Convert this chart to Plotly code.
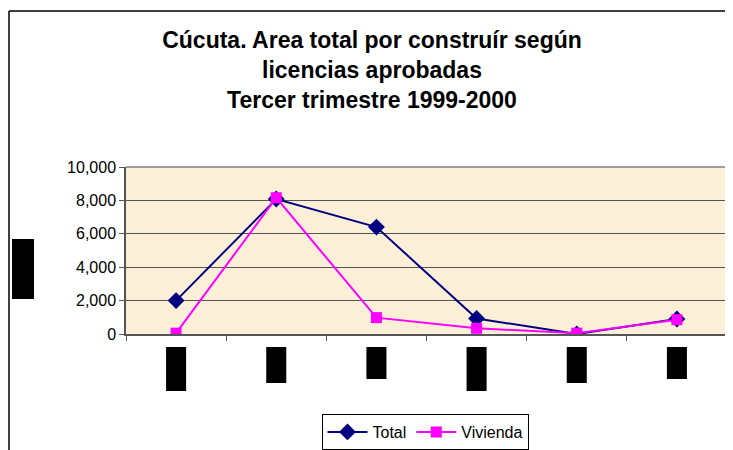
import plotly.graph_objects as go

categories = ["C1", "C2", "C3", "C4", "C5", "C6"]
total = [2000, 8080, 6400, 930, 0, 900]
vivienda = [50, 8160, 980, 340, 50, 860]
y_ticks = [0, 2000, 4000, 6000, 8000, 10000]
y_tick_labels = ["0", "2,000", "4,000", "6,000", "8,000", "10,000"]

OFF = 8  # page body margin
W, H = 733 - OFF, 450 - OFF
# plot area in reference page pixels: x 126..727, y 167..334
L, R, T, B = 126 - OFF, 733 - 727, 167 - OFF, 450 - 334
pw, ph = W - L - R, H - T - B

def px(x):  # reference page pixel -> paper x
    return (x - OFF - L) / pw

def py(y):  # reference page pixel -> paper y
    return (H - B - (y - OFF)) / ph

fig = go.Figure()
fig.add_trace(go.Scatter(x=categories, y=total, name="Total", mode="lines+markers",
                         line=dict(color="#000080", width=2),
                         marker=dict(symbol="diamond", size=13, color="#000080")))
fig.add_trace(go.Scatter(x=categories, y=vivienda, name="Vivienda", mode="lines+markers",
                         line=dict(color="#FF00FF", width=2),
                         marker=dict(symbol="square", size=11, color="#FF00FF")))

shapes = []
box_bottoms = [391, 383, 379, 391, 383, 379]
for i, bb in enumerate(box_bottoms):
    shapes.append(dict(type="rect", xref="x", yref="paper", x0=i - 0.1, x1=i + 0.1,
                       y0=py(bb), y1=py(347), fillcolor="black", line=dict(width=0)))
shapes.append(dict(type="rect", xref="paper", yref="paper", x0=px(12), x1=px(34),
                   y0=py(299), y1=py(239), fillcolor="black", line=dict(width=0)))
shapes.append(dict(type="line", xref="paper", yref="paper", x0=px(9), x1=px(9),
                   y0=py(11), y1=py(470), line=dict(color="black", width=1.5)))
shapes.append(dict(type="line", xref="paper", yref="paper", x0=px(9), x1=px(760),
                   y0=py(11), y1=py(11), line=dict(color="black", width=1.5)))
shapes.append(dict(type="line", xref="paper", yref="paper", x0=0, x1=1, y0=1, y1=1,
                   line=dict(color="#808080", width=1.5)))
shapes.append(dict(type="line", xref="paper", yref="paper", x0=1, x1=1, y0=0, y1=1,
                   line=dict(color="#808080", width=1.5)))

fig.update_layout(
    width=W, height=H,
    margin=dict(l=L, r=R, t=T, b=B, autoexpand=False),
    paper_bgcolor="white",
    plot_bgcolor="#FBEFD8",
    font=dict(family="Liberation Sans, Arial, sans-serif", size=16, color="black"),
    title=dict(text="<b>Cúcuta. Area total por construír según<br>licencias aprobadas<br>Tercer trimestre 1999-2000</b>",
               x=(372 - OFF) / W, xref="container", xanchor="center", y=1 - 40 / H, yanchor="middle",
               font=dict(size=23, color="black")),
    showlegend=True,
    legend=dict(orientation="h", x=px(425), xanchor="center", y=py(432), yanchor="middle",
                bordercolor="black", borderwidth=1, bgcolor="white",
                font=dict(size=16), itemwidth=40),
    shapes=shapes,
)
fig.update_xaxes(type="category", showticklabels=False, showgrid=False,
                 showline=True, linecolor="#555555", linewidth=1.5,
                 ticks="outside", tickson="boundaries", ticklen=5, tickcolor="#555555",
                 range=[-0.5, 5.5], fixedrange=True, automargin=False)
fig.update_yaxes(range=[0, 10000], tickvals=y_ticks, ticktext=y_tick_labels,
                 showgrid=True, gridcolor="#555555", gridwidth=1,
                 showline=True, linecolor="#555555", linewidth=1.5,
                 ticks="outside", ticklen=5, tickcolor="#555555", zeroline=False,
                 tickfont=dict(size=16), automargin=False)

fig.write_html("out.html")
